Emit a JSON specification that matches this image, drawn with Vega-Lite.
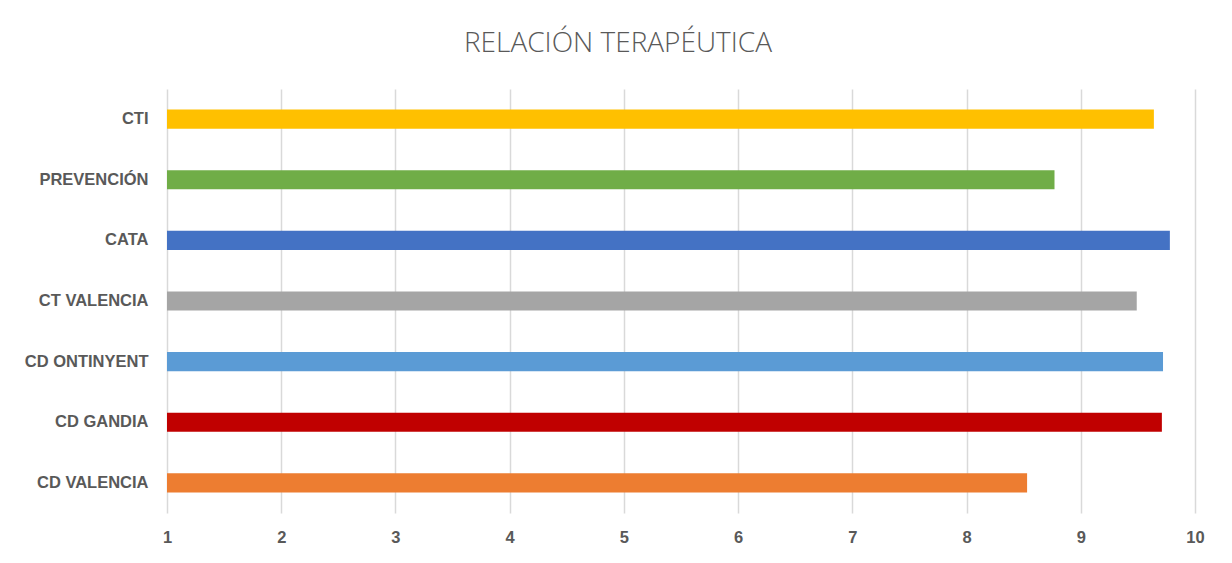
{
  "$schema": "https://vega.github.io/schema/vega-lite/v6.json",
  "width": 1028,
  "height": 424,
  "autosize": {"type": "none"},
  "padding": {"left": 167, "top": 89, "right": 37, "bottom": 50},
  "background": "white",
  "title": {
    "text": "RELACIÓN TERAPÉUTICA",
    "fontSize": 28,
    "font": "Open Sans",
    "fontWeight": 300,
    "color": "#595959",
    "anchor": "middle",
    "dx": -63,
    "offset": 31
  },
  "config": {"view": {"stroke": null}},
  "data": {
    "values": [
      {"centro": "CTI", "valor": 9.64, "base": 1},
      {"centro": "PREVENCIÓN", "valor": 8.77, "base": 1},
      {"centro": "CATA", "valor": 9.78, "base": 1},
      {"centro": "CT VALENCIA", "valor": 9.49, "base": 1},
      {"centro": "CD ONTINYENT", "valor": 9.72, "base": 1},
      {"centro": "CD GANDIA", "valor": 9.71, "base": 1},
      {"centro": "CD VALENCIA", "valor": 8.53, "base": 1}
    ]
  },
  "mark": {"type": "bar"},
  "encoding": {
    "y": {
      "field": "centro",
      "type": "nominal",
      "sort": ["CTI", "PREVENCIÓN", "CATA", "CT VALENCIA", "CD ONTINYENT", "CD GANDIA", "CD VALENCIA"],
      "scale": {"paddingInner": 0.685, "paddingOuter": 0.34},
      "axis": {
        "title": null,
        "domain": false,
        "ticks": false,
        "labelPadding": 19,
        "labelFont": "Liberation Sans",
        "labelFontWeight": "bold",
        "labelFontSize": 16.5,
        "labelColor": "#595959"
      }
    },
    "x": {
      "field": "valor",
      "type": "quantitative",
      "scale": {"domain": [1, 10], "zero": false, "nice": false},
      "axis": {
        "title": null,
        "values": [1, 2, 3, 4, 5, 6, 7, 8, 9, 10],
        "domain": false,
        "ticks": false,
        "grid": true,
        "gridColor": "#d9d9d9",
        "gridWidth": 1.5,
        "labelFlush": false,
        "labelPadding": 16,
        "labelFont": "Liberation Sans",
        "labelFontWeight": "bold",
        "labelFontSize": 16.5,
        "labelColor": "#595959"
      }
    },
    "x2": {"field": "base"},
    "color": {
      "field": "centro",
      "type": "nominal",
      "legend": null,
      "scale": {
        "domain": ["CTI", "PREVENCIÓN", "CATA", "CT VALENCIA", "CD ONTINYENT", "CD GANDIA", "CD VALENCIA"],
        "range": ["#FFC000", "#70AD47", "#4472C4", "#A5A5A5", "#5B9BD5", "#C00000", "#ED7D31"]
      }
    }
  }
}
